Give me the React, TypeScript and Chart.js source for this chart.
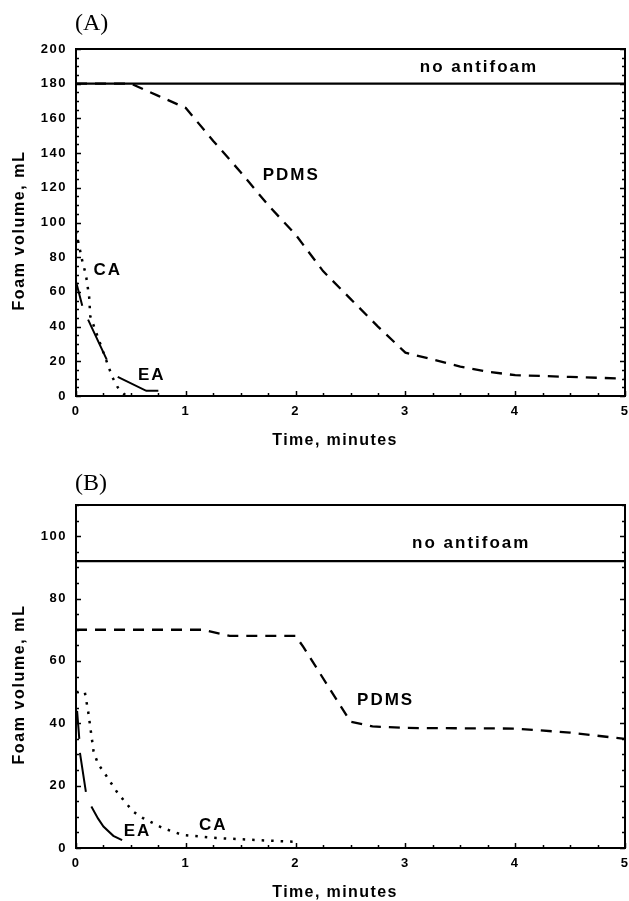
import React, { useEffect, useRef } from 'react';
import { Chart, registerables } from 'chart.js';

Chart.register(...registerables);

// ---------- shared ----------
const timeTickLabels = ['0', '1', '2', '3', '4', '5'];
const xTitle = 'Time, minutes';
const yTitle = 'Foam volume, mL';

// ---------- Panel A ----------
const aNoAntifoamX = [0, 5];
const aNoAntifoamY = [180, 180];
const aPdmsX = [0, 0.5, 0.75, 1, 1.25, 1.5, 1.75, 2, 2.25, 2.5, 2.75, 3, 3.25, 3.5, 3.75, 4, 4.5, 5];
const aPdmsY = [180, 180, 173, 166, 147, 129, 110, 93, 72, 56, 40, 25, 21, 17, 14, 12, 11, 10];
const aCaX = [0, 0.03, 0.06, 0.09, 0.12, 0.13, 0.25, 0.33, 0.38, 0.44, 0.5];
const aCaY = [95, 86, 77, 70, 57, 46, 25, 11, 5, 1, 0];
const aEaX = [0, 0.057, 0.08, 0.11, 0.28, 0.33, 0.38, 0.64, 0.75];
const aEaY = [66, 52, null, 44, 21, null, 11, 3, 3];
const aLabelText = ['no antifoam', 'PDMS', 'CA', 'EA'];
const aLabelX = [3.67, 1.96, 0.29, 0.69];
const aLabelY = [189.5, 127, 72.6, 12.1];

// ---------- Panel B ----------
const bNoAntifoamX = [0, 5];
const bNoAntifoamY = [92, 92];
const bPdmsX = [0, 1, 1.15, 1.4, 2, 2.07, 2.5, 2.7, 3, 4, 4.5, 5];
const bPdmsY = [70, 70, 70, 68, 68, 64.5, 40.5, 39, 38.5, 38.3, 37, 35];
const bCaX = [0, 0.08, 0.11, 0.16, 0.2, 0.26, 0.38, 0.52, 0.61, 0.79, 0.97, 1.28, 1.73, 2];
const bCaY = [50, 50, 44, 31, 27, 24, 17.6, 11.7, 9.6, 6.4, 4.2, 3.2, 2.4, 2];
const bEaX = [0.01, 0.03, 0.033, 0.036, 0.09, 0.11, 0.14, 0.2, 0.25, 0.34, 0.42];
const bEaY = [44, 35, null, 30.5, 18, null, 13.3, 9.5, 6.9, 3.9, 2.5];
const bLabelText = ['no antifoam', 'PDMS', 'CA', 'EA'];
const bLabelX = [3.6, 2.82, 1.25, 0.56];
const bLabelY = [97.8, 47.5, 7.4, 5.3];

const SANS = "'Liberation Sans', Arial, Helvetica, sans-serif";
const SERIF = "'Liberation Serif', 'Times New Roman', serif";

function pts(xs: number[], ys: (number | null)[]) {
  return xs.map((x, i) => ({ x, y: ys[i] }));
}

type PanelCfg = {
  letter: string;
  canvasHeight: number;
  padTop: number;
  letterY: number;
  yMax: number;
  noX: number[]; noY: (number | null)[];
  pdmsX: number[]; pdmsY: (number | null)[];
  caX: number[]; caY: (number | null)[];
  eaX: number[]; eaY: (number | null)[];
  labText: string[]; labX: number[]; labY: number[];
};

const PLOT_BOTTOM = 396;

function makeConfig(c: PanelCfg): any {
  const annot = {
    id: 'annot',
    beforeDraw(chart: any) {
      (chart.ctx as any).letterSpacing = '1.5px';
    },
    afterDraw(chart: any) {
      const ctx = chart.ctx as any;
      const { left, right, top, bottom } = chart.chartArea;
      const xs = chart.scales.x;
      const ys = chart.scales.y;
      ctx.save();
      ctx.strokeStyle = '#000';
      ctx.fillStyle = '#000';
      // frame
      ctx.lineWidth = 2;
      ctx.strokeRect(left, top, right - left, bottom - top);
      // y ticks (inside, left and right)
      ctx.lineWidth = 1.5;
      for (let v = 0; v <= c.yMax; v += 5) {
        const py = Math.round(ys.getPixelForValue(v)) + 0.5;
        const len = v % 20 === 0 ? 5 : 3;
        ctx.beginPath();
        ctx.moveTo(left, py); ctx.lineTo(left + len, py);
        ctx.moveTo(right, py); ctx.lineTo(right - len, py);
        ctx.stroke();
      }
      // x ticks (inside bottom)
      for (let t = 0; t <= 5.0001; t += 0.25) {
        const px = Math.round(xs.getPixelForValue(t)) + 0.5;
        const len = Math.abs(t - Math.round(t)) < 1e-6 ? 5 : 3;
        ctx.beginPath();
        ctx.moveTo(px, bottom); ctx.lineTo(px, bottom - len);
        ctx.stroke();
      }
      // series labels
      ctx.font = `bold 17px ${SANS}`;
      ctx.letterSpacing = '2px';
      ctx.textAlign = 'center';
      ctx.textBaseline = 'middle';
      c.labText.forEach((t, i) => {
        ctx.fillText(t, xs.getPixelForValue(c.labX[i]), ys.getPixelForValue(c.labY[i]));
      });
      // axis titles
      ctx.font = `bold 16px ${SANS}`;
      ctx.letterSpacing = '1.4px';
      ctx.fillText(xTitle, 335, 441);
      ctx.save();
      ctx.translate(20, (top + bottom) / 2 + 8);
      ctx.rotate(-Math.PI / 2);
      ctx.letterSpacing = '1.6px';
      ctx.fillText(yTitle, 0, 0);
      ctx.restore();
      // panel letter
      ctx.letterSpacing = '0px';
      ctx.font = `24px ${SERIF}`;
      ctx.textAlign = 'left';
      ctx.fillText(c.letter, 75, c.letterY);
      ctx.restore();
    },
  };

  const tickFont = { family: SANS, size: 13, weight: 'bold' as const };

  return {
    type: 'line',
    data: {
      datasets: [
        { data: pts(c.noX, c.noY), borderColor: '#000', borderWidth: 2.2, pointRadius: 0 },
        { data: pts(c.pdmsX, c.pdmsY), borderColor: '#000', borderWidth: 2.3, borderDash: [11, 8], pointRadius: 0 },
        { data: pts(c.caX, c.caY), borderColor: '#000', borderWidth: 2.5, borderDash: [2.5, 7], pointRadius: 0 },
        { data: pts(c.eaX, c.eaY), borderColor: '#000', borderWidth: 2, pointRadius: 0, spanGaps: false },
      ],
    },
    options: {
      responsive: false,
      animation: false,
      devicePixelRatio: 1,
      layout: { padding: { top: c.padTop, right: 4, left: 0, bottom: 0 } },
      plugins: { legend: { display: false }, tooltip: { enabled: false } },
      elements: { line: { tension: 0 } },
      scales: {
        x: {
          type: 'linear',
          min: 0,
          max: 5,
          afterFit: (s: any) => {
            s.height = c.canvasHeight - PLOT_BOTTOM;
            s.paddingLeft = 0;
            s.paddingRight = 0;
          },
          grid: { display: false, drawTicks: false },
          border: { display: false },
          ticks: {
            stepSize: 1,
            color: '#000',
            font: tickFont,
            padding: 8,
            maxRotation: 0,
            callback: (v: number) => timeTickLabels[Math.round(v)] ?? '',
          },
        },
        y: {
          type: 'linear',
          min: 0,
          max: c.yMax,
          afterFit: (s: any) => {
            s.width = 76;
            s.paddingTop = 0;
            s.paddingBottom = 0;
          },
          afterBuildTicks: (s: any) => { s.ticks = s.ticks.filter((t: any) => t.value % 20 === 0); },
          grid: { display: false, drawTicks: false },
          border: { display: false },
          ticks: { stepSize: 20, color: '#000', font: tickFont, padding: 9 },
        },
      },
    },
    plugins: [annot],
  };
}

const panelA: PanelCfg = {
  letter: '(A)', canvasHeight: 452, padTop: 49, letterY: 24, yMax: 200,
  noX: aNoAntifoamX, noY: aNoAntifoamY, pdmsX: aPdmsX, pdmsY: aPdmsY,
  caX: aCaX, caY: aCaY, eaX: aEaX, eaY: aEaY,
  labText: aLabelText, labX: aLabelX, labY: aLabelY,
};

const panelB: PanelCfg = {
  letter: '(B)', canvasHeight: 449, padTop: 53, letterY: 31.5, yMax: 110,
  noX: bNoAntifoamX, noY: bNoAntifoamY, pdmsX: bPdmsX, pdmsY: bPdmsY,
  caX: bCaX, caY: bCaY, eaX: bEaX, eaY: bEaY,
  labText: bLabelText, labX: bLabelX, labY: bLabelY,
};

function Panel({ cfg, top }: { cfg: PanelCfg; top: number }) {
  const ref = useRef<HTMLCanvasElement>(null);
  useEffect(() => {
    const chart = new Chart(ref.current as HTMLCanvasElement, makeConfig(cfg));
    return () => chart.destroy();
  }, [cfg]);
  return (
    <canvas
      ref={ref}
      width={629}
      height={cfg.canvasHeight}
      style={{ position: 'absolute', left: 0, top, width: 629, height: cfg.canvasHeight }}
    />
  );
}

export default function App() {
  return (
    <div style={{ position: 'absolute', left: 0, top: 0, width: 629, height: 901, background: '#fff' }}>
      <Panel cfg={panelA} top={0} />
      <Panel cfg={panelB} top={452} />
    </div>
  );
}
